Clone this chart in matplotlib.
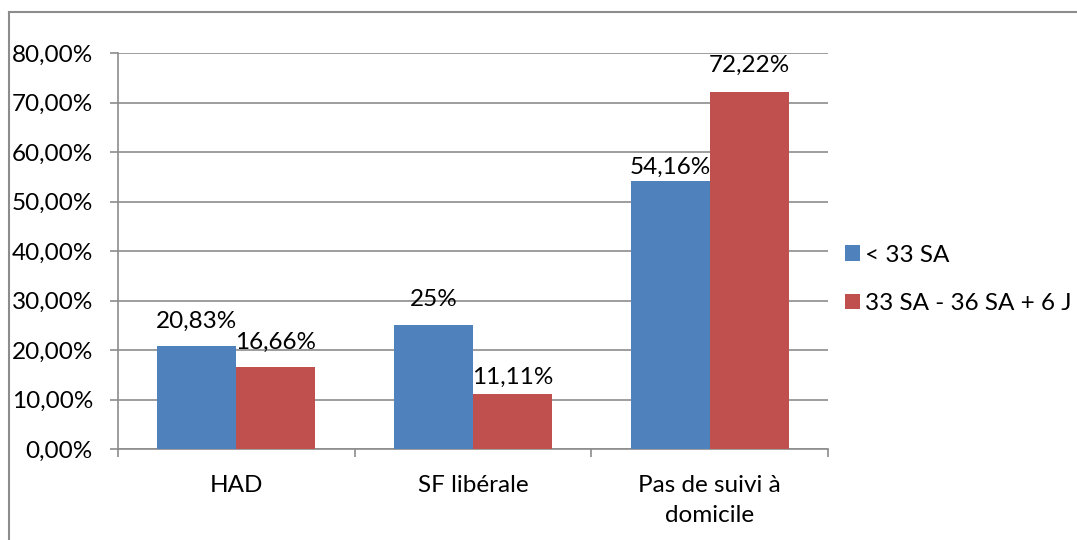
import matplotlib
matplotlib.use("Agg")
import matplotlib.pyplot as plt
from matplotlib.lines import Line2D
import numpy as np

categories = ["HAD", "SF libérale", "Pas de suivi à\ndomicile"]
series_names = ["< 33 SA", "33 SA - 36 SA + 6 J"]
values_lt33 = [20.83, 25.0, 54.16]
values_33_36 = [16.66, 11.11, 72.22]
labels_lt33 = ["20,83%", "25%", "54,16%"]
labels_33_36 = ["16,66%", "11,11%", "72,22%"]
yticks = [0, 10, 20, 30, 40, 50, 60, 70, 80]
ytick_labels = ["0,00%", "10,00%", "20,00%", "30,00%", "40,00%", "50,00%", "60,00%", "70,00%", "80,00%"]

# vertical offset (points) of each data label above its bar
offsets_lt33 = [10, 11, 2]
offsets_33_36 = [10, 4.5, 11]

colors = ["#4F81BD", "#C0504D"]
grid_col = "#8C8C8C"
FS = 17.5
plt.rcParams['font.family'] = ['Lato', 'DejaVu Sans']

fig = plt.figure(figsize=(10.77, 5.40), dpi=100)
ax = fig.add_axes([118/1077, 1-449/540, (828-118)/1077, (449-53)/540])

x = np.arange(len(categories))
w = 1/3
b1 = ax.bar(x - w/2, values_lt33, width=w, color=colors[0], label=series_names[0], zorder=3)
b2 = ax.bar(x + w/2, values_33_36, width=w, color=colors[1], label=series_names[1], zorder=3)

for rects, labs, offs in ((b1, labels_lt33, offsets_lt33), (b2, labels_33_36, offsets_33_36)):
    for r, lab, off in zip(rects, labs, offs):
        ax.annotate(lab, (r.get_x() + r.get_width()/2, r.get_height()),
                    xytext=(0, off), textcoords="offset points",
                    ha="center", va="bottom", fontsize=FS, color="black")

ax.set_xlim(-0.5, len(categories) - 0.5)
ax.set_ylim(0, 80)
ax.set_yticks(yticks)
ax.set_yticklabels(ytick_labels, fontsize=FS)
ax.yaxis.grid(True, color=grid_col, linewidth=1.2, zorder=0)
ax.set_axisbelow(True)

ax.set_xticks(x)
ax.set_xticklabels(categories, fontsize=FS, linespacing=1.5)
ax.set_xticks(np.arange(-0.5, len(categories), 1.0), minor=True)
ax.tick_params(axis="x", which="major", length=0, pad=19)
ax.tick_params(axis="x", which="minor", length=6, width=1.2, color=grid_col, direction="out")
ax.tick_params(axis="y", length=6, width=1.2, color=grid_col, direction="out", pad=12)

for s in ("top", "right"):
    ax.spines[s].set_visible(False)
for s in ("left", "bottom"):
    ax.spines[s].set_color(grid_col)
    ax.spines[s].set_linewidth(1.2)

fig.legend(handles=[b1, b2], labels=series_names, loc="center left",
           bbox_to_anchor=(845/1077, 1-279.5/540), frameon=False, fontsize=FS,
           handlelength=0.62, handleheight=0.62, handletextpad=0.22,
           labelspacing=1.12, borderpad=0, borderaxespad=0)

fig.add_artist(Line2D([9/1077, 1.0], [1-12/540, 1-12/540], transform=fig.transFigure,
                      color=grid_col, linewidth=1.5))
fig.add_artist(Line2D([9/1077, 9/1077], [0, 1-12/540], transform=fig.transFigure,
                      color=grid_col, linewidth=1.5))

fig.savefig("out.png", dpi=100)
